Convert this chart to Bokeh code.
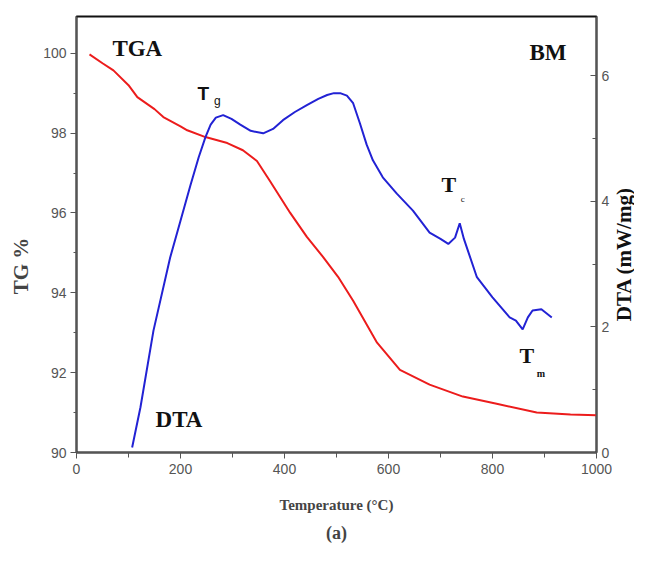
import math
from bokeh.plotting import figure
from bokeh.layouts import row
from bokeh.models import Range1d, LinearAxis, FixedTicker, Title
from bokeh.core.properties import value
from bokeh.embed import file_html
from bokeh.resources import INLINE

# ---- data ----
tga_temp = [25, 50, 71, 100, 117, 150, 167, 200, 213, 248, 290, 320, 347, 372,
            411, 443, 474, 503, 532, 578, 622, 679, 743, 808, 885, 950, 1000]
tga_tg = [99.97, 99.75, 99.57, 99.2, 98.9, 98.6, 98.4, 98.17, 98.07, 97.9, 97.75,
          97.57, 97.3, 96.8, 96.0, 95.4, 94.9, 94.4, 93.8, 92.75, 92.07, 91.7,
          91.4, 91.22, 91.0, 90.95, 90.93]

dta_temp = [107, 123, 148, 180, 200, 219, 235, 248, 258, 268, 282, 298, 315, 335,
            359, 378, 397, 420, 443, 465, 482, 495, 507, 520, 532, 545, 558, 570,
            589, 616, 647, 679, 700, 715, 728, 737, 745, 770, 800, 833, 845, 858,
            868, 877, 894, 914]
dta_val = [0.08, 0.72, 1.94, 3.1, 3.69, 4.25, 4.7, 5.02, 5.22, 5.33, 5.37, 5.31,
           5.22, 5.12, 5.08, 5.15, 5.29, 5.42, 5.53, 5.63, 5.69, 5.72, 5.72, 5.68,
           5.56, 5.24, 4.9, 4.65, 4.38, 4.12, 3.85, 3.5, 3.4, 3.32, 3.42, 3.65,
           3.4, 2.79, 2.47, 2.15, 2.1, 1.96, 2.15, 2.26, 2.28, 2.15]

tg_ticks = [90, 92, 94, 96, 98, 100]
dta_ticks = [0, 2, 4, 6]
temp_ticks = [0, 200, 400, 600, 800, 1000]

SERIF = "Liberation Serif"
SANS = "Liberation Sans"
AX = "#555555"
NB = "\u00a0"

p = figure(width=612, height=547, x_range=Range1d(0, 1000), y_range=Range1d(90, 100.92),
           output_backend="svg", toolbar_location=None,
           min_border_left=76, min_border_right=15, min_border_top=16, min_border_bottom=94)
p.extra_y_ranges = {"dta": Range1d(0, 6.94)}
p.xgrid.visible = False
p.ygrid.visible = False
p.outline_line_color = "#111111"
p.outline_line_width = 2
p.background_fill_color = "white"
p.border_fill_color = "white"

# left axis
ya = p.yaxis[0]
ya.ticker = FixedTicker(ticks=tg_ticks, minor_ticks=list(range(90, 101)))
ya.axis_label = "TG %" + NB * 12
ya.axis_label_text_font = SERIF
ya.axis_label_text_font_style = "bold"
ya.axis_label_text_font_size = "21px"
ya.axis_label_standoff = 7
ya.major_label_text_font = SANS
ya.major_label_text_font_size = "14px"
ya.major_label_text_color = AX
ya.major_tick_out = 6
ya.major_tick_in = 0
ya.minor_tick_out = 3
ya.minor_tick_in = 0
ya.axis_line_color = AX
ya.axis_line_width = 1.5
ya.major_tick_line_color = AX
ya.minor_tick_line_color = AX
ya.major_label_standoff = 4

# bottom axis
xa = p.xaxis[0]
xa.ticker = FixedTicker(ticks=temp_ticks, minor_ticks=list(range(0, 1001, 100)))
xa.axis_label = "Temperature (°C)"
xa.axis_label_text_font = SERIF
xa.axis_label_text_font_style = "bold"
xa.axis_label_text_font_size = "15px"
xa.axis_label_standoff = 20
xa.major_label_text_font = SANS
xa.major_label_text_font_size = "14px"
xa.major_label_text_color = AX
xa.major_tick_out = 6
xa.major_tick_in = 0
xa.minor_tick_out = 5
xa.minor_tick_in = 0
xa.axis_line_color = AX
xa.axis_line_width = 1.5
xa.major_tick_line_color = AX
xa.minor_tick_line_color = AX
xa.major_label_standoff = 5

# right axis (its title is drawn in the narrow side panel below)
ra = LinearAxis(y_range_name="dta")
ra.ticker = FixedTicker(ticks=dta_ticks, minor_ticks=[0, 1, 2, 3, 4, 5, 6])
ra.major_label_text_font = SANS
ra.major_label_text_font_size = "14px"
ra.major_label_text_color = AX
ra.major_tick_out = 0
ra.major_tick_in = 6
ra.minor_tick_out = 0
ra.minor_tick_in = 4
ra.axis_line_color = AX
ra.axis_line_width = 1.5
ra.major_tick_line_color = AX
ra.minor_tick_line_color = AX
ra.major_label_standoff = 5
p.add_layout(ra, "right")

# curves
p.line(tga_temp, tga_tg, line_color="#ec1c1c", line_width=2)
p.line(dta_temp, dta_val, line_color="#2222d4", line_width=2, y_range_name="dta")

# annotations (bold serif)
p.text(x=[69, 871, 152], y=[100.12, 100.02, 90.83], text=["TGA", "BM", "DTA"],
       text_font=value(SERIF), text_font_style="bold", text_font_size="23px",
       text_align="left", text_baseline="middle", text_color="#111111")
# T_g in sans
p.text(x=[244], y=[99.0], text=["T"], text_font=value(SANS), text_font_style="bold",
       text_font_size="19px", text_align="center", text_baseline="middle", text_color="#111111")
p.text(x=[271], y=[98.8], text=["g"], text_font=value(SANS), text_font_size="12px",
       text_align="center", text_baseline="middle", text_color="#111111")
# T_c and T_m in serif
p.text(x=[716, 866], y=[96.7, 92.43], text=["T", "T"], text_font=value(SERIF),
       text_font_style="bold", text_font_size="22px", text_align="center",
       text_baseline="middle", text_color="#111111")
p.text(x=[743], y=[96.35], text=["c"], text_font=value(SERIF), text_font_size="9px",
       text_align="center", text_baseline="middle", text_color="#111111")
p.text(x=[893], y=[91.98], text=["m"], text_font=value(SERIF), text_font_style="bold",
       text_font_size="10px", text_align="center", text_baseline="middle", text_color="#111111")

cap = Title(text="(a)", align="center", text_font=SERIF, text_font_style="bold",
            text_font_size="18px", standoff=10)
p.add_layout(cap, "below")

# narrow panel holding the right-hand axis title, reading upward
side = figure(width=22, height=547, x_range=Range1d(0, 1), y_range=Range1d(0, 1),
              output_backend="svg", toolbar_location=None,
              x_axis_location=None, y_axis_location=None, min_border=0,
              min_border_left=0, min_border_right=0, min_border_top=0, min_border_bottom=0)
side.xgrid.visible = False
side.ygrid.visible = False
side.outline_line_color = None
side.background_fill_color = "white"
side.border_fill_color = "white"
side.text(x=[0.5], y=[0.455], text=["DTA (mW/mg)"], angle=math.pi / 2,
          text_font=value(SERIF), text_font_style="bold", text_font_size="21px",
          text_align="center", text_baseline="middle", text_color="#111111")

layout = row(p, side)
open("out.html", "w").write(file_html(layout, INLINE))
